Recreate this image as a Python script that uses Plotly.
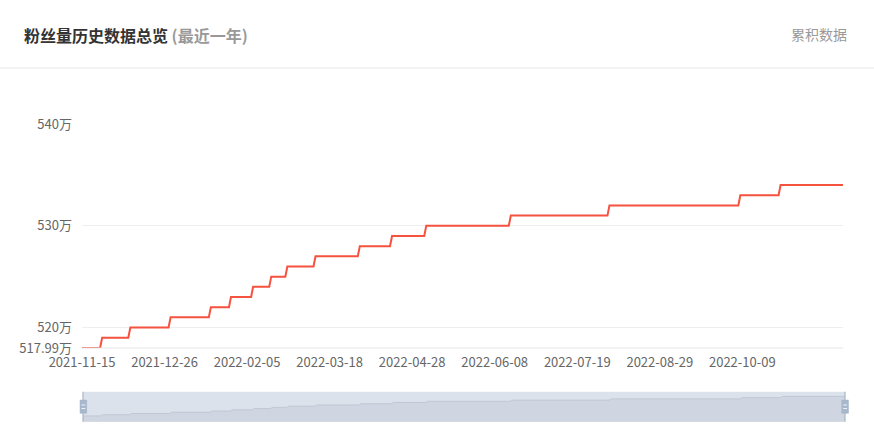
import pandas as pd
import plotly.graph_objects as go

# ---- data (values in 万) ----
level_start = ["2021-11-15", "2021-11-25", "2021-12-09", "2021-12-29", "2022-01-18",
               "2022-01-28", "2022-02-08", "2022-02-17", "2022-02-25", "2022-03-11",
               "2022-04-02", "2022-04-18", "2022-05-05", "2022-06-16", "2022-08-04",
               "2022-10-08", "2022-10-28"]
level_value = [517.99, 519, 520, 521, 522, 523, 524, 525, 526, 527,
               528, 529, 530, 531, 532, 533, 534]
last_date = "2022-11-28"

x_tick_labels = ["2021-11-15", "2021-12-26", "2022-02-05", "2022-03-18", "2022-04-28",
                 "2022-06-08", "2022-07-19", "2022-08-29", "2022-10-09"]
y_tick_vals = [517.99, 520, 530, 540]
y_tick_text = ["517.99万", "520万", "530万", "540万"]

title_main = "粉丝量历史数据总览"
title_sub = "(最近一年)"
right_label = "累积数据"

# build daily step points (each level holds from its start until the day before the next)
starts = pd.to_datetime(level_start)
ends = list(starts[1:] - pd.Timedelta(days=1)) + [pd.Timestamp(last_date)]
xs, ys = [], []
for s, e, v in zip(starts, ends, level_value):
    xs += [s, e]
    ys += [v, v]

W, H = 874, 441
FONT = "Noto Sans CJK SC, Noto Sans, sans-serif"

def px(x):
    return x / W

def py(y):
    return 1 - y / H

fig = go.Figure()

# main line
fig.add_trace(go.Scatter(x=xs, y=ys, mode="lines",
                         line=dict(color="#f5523f", width=2),
                         hoverinfo="skip", showlegend=False,
                         xaxis="x", yaxis="y"))

# slider data shadow
fig.add_trace(go.Scatter(x=xs, y=ys, mode="lines", fill="tozeroy",
                         fillcolor="#cfd6e1",
                         line=dict(color="#bfc8d5", width=1),
                         hoverinfo="skip", showlegend=False,
                         xaxis="x2", yaxis="y2"))

x0 = pd.Timestamp(level_start[0])
x1 = pd.Timestamp(last_date)

fig.update_layout(
    template="none",
    width=W, height=H, autosize=False,
    margin=dict(l=0, r=0, t=0, b=0, pad=0),
    paper_bgcolor="white", plot_bgcolor="rgba(0,0,0,0)",
    font=dict(family=FONT, size=13, color="#666"),
    xaxis=dict(domain=[px(82), px(843)], type="date", range=[x0, x1],
               tickvals=x_tick_labels, ticktext=x_tick_labels,
               showgrid=False, zeroline=False, automargin=False,
               showline=False, ticks="", ticklabelstandoff=5,
               tickfont=dict(family=FONT, size=13, color="#666"),
               anchor="y", fixedrange=True),
    yaxis=dict(domain=[py(348), py(124)], range=[517.99, 540],
               tickvals=y_tick_vals, ticktext=y_tick_text,
               showgrid=True, gridcolor="#eeeeee", gridwidth=1,
               zeroline=False, showline=False, ticks="", automargin=False,
               ticklabelstandoff=9,
               tickfont=dict(family=FONT, size=13, color="#666"),
               anchor="x", fixedrange=True),
    xaxis2=dict(domain=[px(83), px(845)], type="date", range=[x0, x1],
                visible=False, anchor="y2", fixedrange=True, automargin=False),
    yaxis2=dict(domain=[py(421.7), py(391.7)], range=[513.26, 537.9],
                visible=False, anchor="x2", fixedrange=True, automargin=False),
)

shapes = []
# header separator
shapes.append(dict(type="line", xref="paper", yref="paper",
                   x0=0, x1=1, y0=py(68), y1=py(68),
                   line=dict(color="#e8e8e8", width=1)))
# x axis baseline
shapes.append(dict(type="line", xref="paper", yref="paper",
                   x0=px(82), x1=px(843), y0=py(348), y1=py(348),
                   line=dict(color="#e6e6e6", width=1)))
# slider background
shapes.append(dict(type="rect", xref="paper", yref="paper",
                   x0=px(83), x1=px(845), y0=py(421.7), y1=py(391.7),
                   fillcolor="#dce2eb", line=dict(width=0), layer="below"))
# slider edge lines
for ex in (83, 845):
    shapes.append(dict(type="line", xref="paper", yref="paper",
                       x0=px(ex), x1=px(ex), y0=py(421.7), y1=py(391.7),
                       line=dict(color="#a9b6c8", width=1.2)))
# slider handles
for hx0, hx1 in ((80, 86.7), (841.7, 848.5)):
    shapes.append(dict(type="rect", xref="paper", yref="paper",
                       x0=px(hx0), x1=px(hx1), y0=py(413.3), y1=py(400),
                       fillcolor="#a7b7cc", line=dict(color="#a7b7cc", width=0.5)))
    for hy in (405, 408.5):
        shapes.append(dict(type="line", xref="paper", yref="paper",
                           x0=px(hx0 + 1.5), x1=px(hx1 - 1.5), y0=py(hy), y1=py(hy),
                           line=dict(color="#eef2f7", width=1)))
fig.update_layout(shapes=shapes)

fig.add_annotation(xref="paper", yref="paper", x=px(22), y=py(35),
                   xanchor="left", yanchor="middle", showarrow=False,
                   text=f"<b>{title_main}</b> <b><span style='color:#999'>{title_sub}</span></b>",
                   font=dict(family=FONT, size=16, color="#333"))
fig.add_annotation(xref="paper", yref="paper", x=px(849), y=py(34),
                   xanchor="right", yanchor="middle", showarrow=False,
                   text=right_label,
                   font=dict(family=FONT, size=14, color="#999"))

fig.write_html("out.html",
               config={"displayModeBar": False, "staticPlot": True},
               post_script="document.body.style.margin='0';document.body.style.overflow='hidden';")
